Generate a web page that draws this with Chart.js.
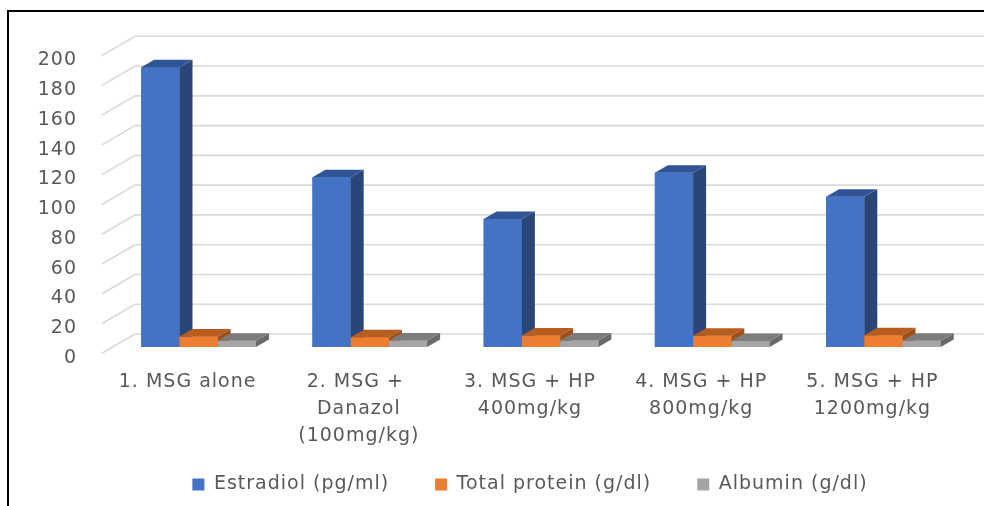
<!DOCTYPE html>
<html>
<head>
<meta charset="utf-8">
<script src="https://cdn.jsdelivr.net/npm/chart.js@4.4.1/dist/chart.umd.min.js"></script>
<style>
  html, body { margin: 0; padding: 0; overflow: hidden; background: #fff; width: 984px; height: 506px; }
  #wrap { position: absolute; left: 0; top: 0; width: 1060px; height: 506px; }
  #frame { position: absolute; left: 7px; top: 10px; width: 1100px; height: 600px;
           border-top: 2px solid #000; border-left: 2px solid #000; pointer-events: none; }
</style>
</head>
<body>
<div id="wrap"><canvas id="chart" width="1060" height="506"></canvas></div>
<div id="frame"></div>
<script>
// Group labels (multi-line) and measured values per group
const categories = [
  ["1. MSG alone"],
  ["2. MSG + ", "Danazol", "(100mg/kg)"],
  ["3. MSG + HP", "400mg/kg"],
  ["4. MSG + HP", "800mg/kg"],
  ["5. MSG + HP", "1200mg/kg"]
];
const estradiol    = [188, 114, 86, 117, 101];
const totalProtein = [7.1, 6.6, 7.8, 7.6, 7.9];
const albumin      = [4.2, 4.4, 4.3, 4.1, 4.2];
const seriesNames  = ["Estradiol (pg/ml)", "Total protein (g/dl)", "Albumin (g/dl)"];
const yMin = 0, yMax = 200, yStep = 20;

// Face colours for the extruded columns: front, top, side
const faces = [
  { front: "#4472C4", top: "#2F5597", side: "#2A4677" },
  { front: "#ED7D31", top: "#B65D1F", side: "#9E5019" },
  { front: "#A5A5A5", top: "#7C7C7C", side: "#6A6A6A" }
];

// Oblique projection offsets
const DEPTH_DX = 13, DEPTH_DY = 7.5;        // column depth
const WALL_BACK = [22, -13];                // bar plane -> back wall
const WALL_FRONT = [-11, 6.3];              // bar plane -> front edge of floor

const FONT = { family: "'DejaVu Sans', sans-serif", size: 19, lineHeight: 1.4 };
const TEXT = "#595959";

const textSpacing = {
  id: "textSpacing",
  beforeLayout(chart) { chart.ctx.letterSpacing = "1px"; },
  beforeDraw(chart) { chart.ctx.letterSpacing = "1px"; }
};

// Back-wall gridlines with their diagonal run along the left wall
const wallGrid = {
  id: "wallGrid",
  beforeDatasetsDraw(chart) {
    const { ctx, chartArea } = chart;
    const y = chart.scales.y;
    ctx.save();
    ctx.strokeStyle = "#D9D9D9";
    ctx.lineWidth = 1.6;
    y.ticks.forEach(t => {
      const py = y.getPixelForValue(t.value);
      ctx.beginPath();
      ctx.moveTo(chartArea.left + WALL_FRONT[0], py + WALL_FRONT[1]);
      ctx.lineTo(chartArea.left + WALL_BACK[0], py + WALL_BACK[1]);
      ctx.lineTo(chart.width, py + WALL_BACK[1]);
      ctx.stroke();
    });
    ctx.restore();
  }
};

// Extrude each column: front, side and top, painted group by group, left to right
const columns3d = {
  id: "columns3d",
  afterDatasetsDraw(chart) {
    const ctx = chart.ctx;
    const metas = chart.data.datasets.map((d, i) => chart.getDatasetMeta(i));
    const poly = pts => {
      ctx.beginPath();
      ctx.moveTo(pts[0][0], pts[0][1]);
      for (let k = 1; k < pts.length; k++) ctx.lineTo(pts[k][0], pts[k][1]);
      ctx.closePath();
      ctx.fill();
    };
    ctx.save();
    for (let j = 0; j < categories.length; j++) {
      metas.forEach((meta, i) => {
        const el = meta.data[j];
        if (!el) return;
        const { x, y, base, width } = el.getProps(["x", "y", "base", "width"], true);
        const l = x - width / 2, r = x + width / 2;
        const c = faces[i];
        ctx.fillStyle = c.front;
        ctx.fillRect(l, y, width, base - y);
        ctx.fillStyle = c.side;
        poly([[r, y], [r + DEPTH_DX, y - DEPTH_DY], [r + DEPTH_DX, base - DEPTH_DY], [r, base]]);
        ctx.fillStyle = c.top;
        poly([[l, y], [l + DEPTH_DX, y - DEPTH_DY], [r + DEPTH_DX, y - DEPTH_DY], [r, y]]);
      });
    }
    ctx.restore();
  }
};

const seriesData = [estradiol, totalProtein, albumin];

new Chart(document.getElementById("chart"), {
  type: "bar",
  data: {
    labels: categories,
    datasets: seriesData.map((values, i) => ({
      label: seriesNames[i],
      data: values,
      backgroundColor: faces[i].front,
      borderWidth: 0,
      categoryPercentage: 0.67,
      barPercentage: 1.0
    }))
  },
  options: {
    responsive: false,
    animation: false,
    layout: { padding: { top: 49, bottom: 2, left: 0, right: 0 } },
    scales: {
      x: {
        grid: { display: false, drawTicks: false },
        border: { display: false },
        // mirrored so the three-line label may run past the axis box into the legend band
        ticks: {
          color: TEXT, font: { ...FONT, lineHeight: 1.42 }, mirror: true, padding: -48.5, labelOffset: -11,
          maxRotation: 0, autoSkip: false
        },
        afterFit(s) { s.height = 82; }
      },
      y: {
        min: yMin, max: yMax,
        grid: { display: false, drawTicks: false },
        border: { display: false },
        ticks: { stepSize: yStep, color: TEXT, font: FONT, padding: 36, labelOffset: 11 },
        afterFit(s) { s.width = 113; }
      },
      yRight: {
        type: "linear",
        position: "right",
        grid: { display: false, drawTicks: false },
        border: { display: false },
        ticks: { display: false },
        afterFit(s) { s.width = 91; }
      }
    },
    plugins: {
      legend: {
        position: "bottom",
        labels: { boxWidth: 12, boxHeight: 12, padding: 46, color: TEXT, font: FONT }
      },
      tooltip: { enabled: false }
    }
  },
  plugins: [textSpacing, wallGrid, columns3d]
});
</script>
</body>
</html>
